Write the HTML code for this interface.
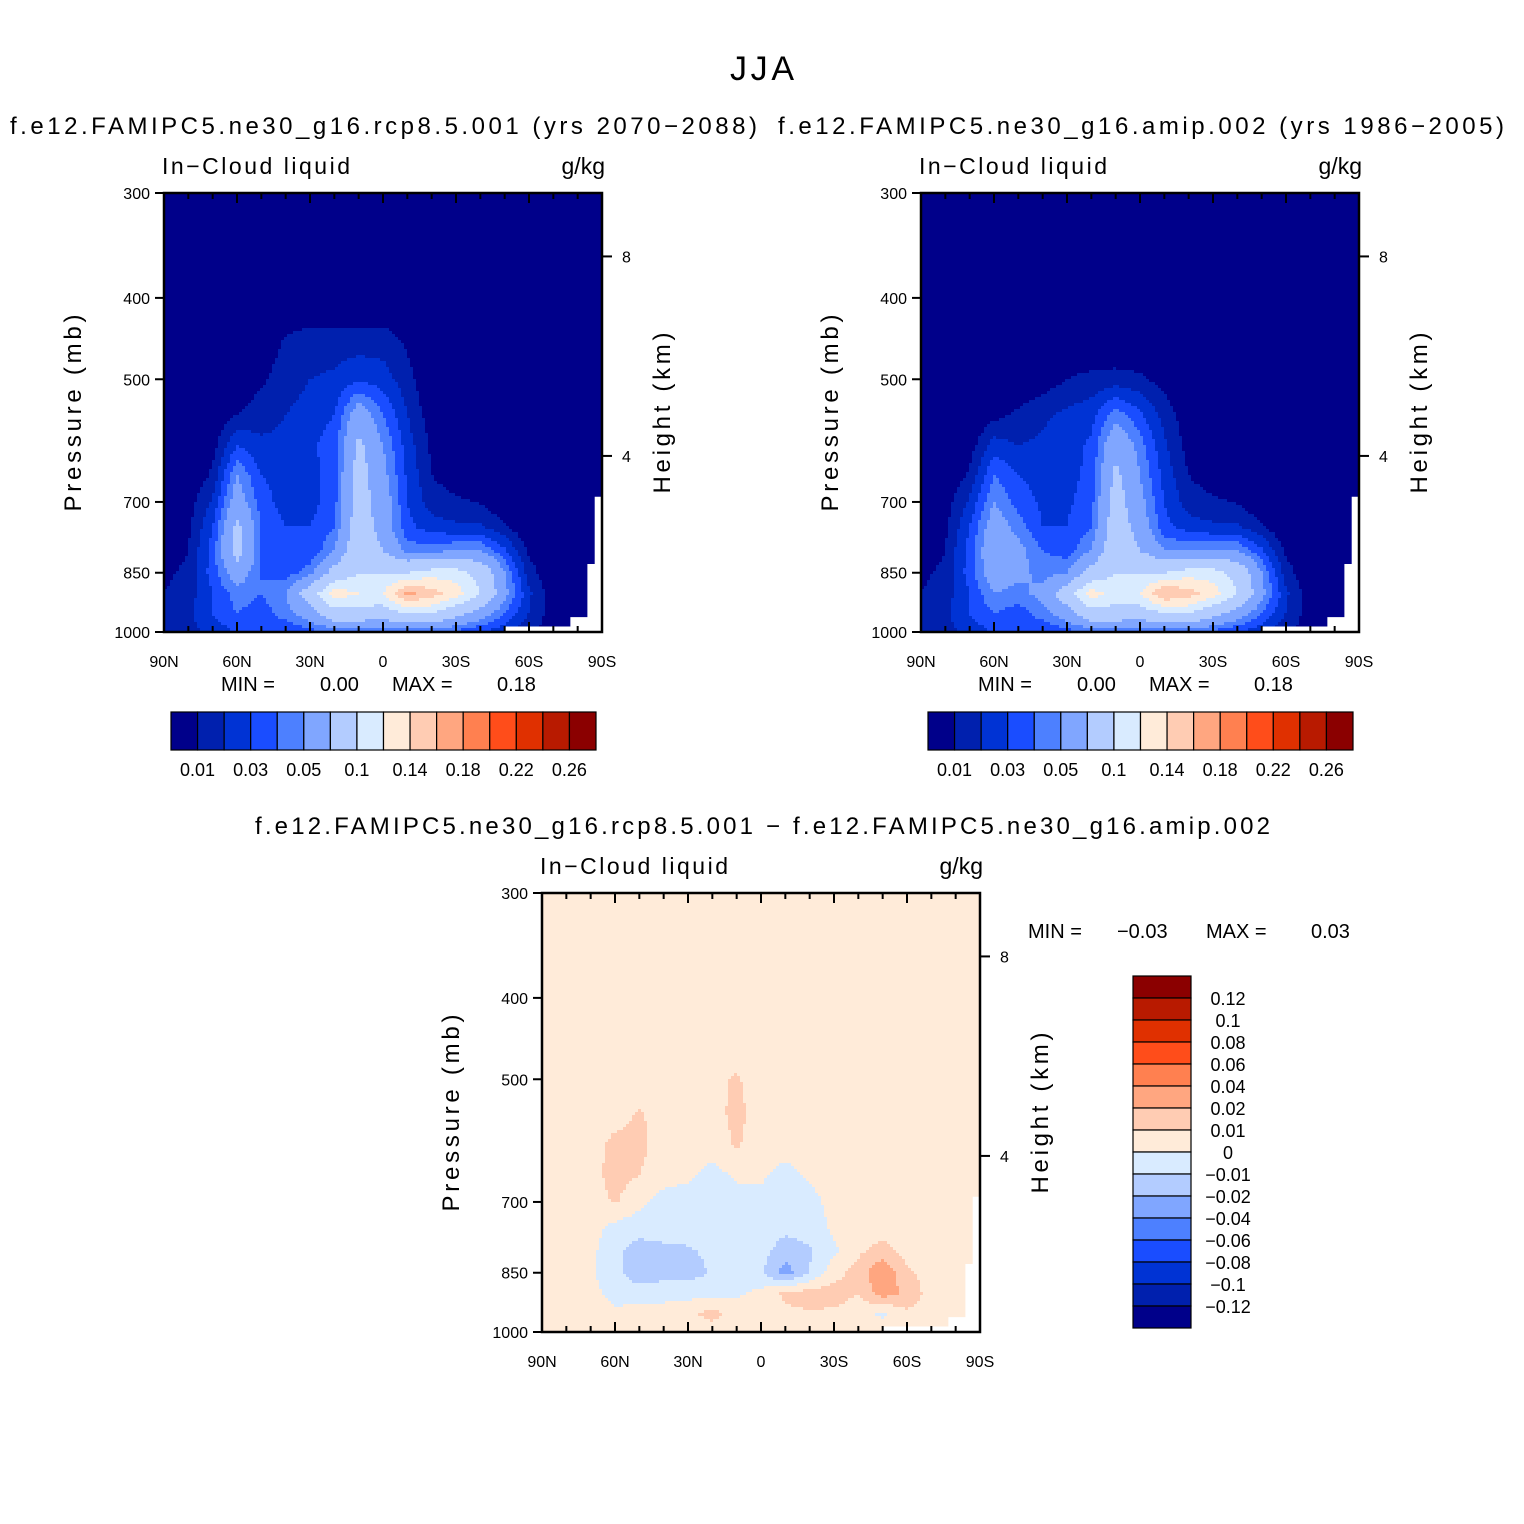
<!DOCTYPE html>
<html><head><meta charset="utf-8">
<style>
html,body{margin:0;padding:0;background:#fff;}
svg{display:block;font-family:"Liberation Sans",sans-serif;}
</style></head>
<body>
<svg id="fig" width="1524" height="1524" viewBox="0 0 1524 1524">
<text x="762" y="80" font-size="34" text-anchor="middle" textLength="64">JJA</text>
<text x="10" y="134" font-size="24" textLength="747">f.e12.FAMIPC5.ne30_g16.rcp8.5.001 (yrs 2070−2088)</text>
<text x="778" y="134" font-size="24" textLength="726">f.e12.FAMIPC5.ne30_g16.amip.002 (yrs 1986−2005)</text>
<text x="255" y="834" font-size="24" textLength="1015">f.e12.FAMIPC5.ne30_g16.rcp8.5.001 − f.e12.FAMIPC5.ne30_g16.amip.002</text>
<g id="plots"></g>
</svg>
<script>
const latLabels=["90N","60N","30N","0","30S","60S","90S"];
const presTicks=[300,400,500,700,850,1000];
const heightTicks=[8,4];
const heightTickPres=[357,617];
const presRows=[300,400,450,500,550,600,650,700,750,800,850,900,950,1000];
const absLevels=[0.01,0.02,0.03,0.04,0.05,0.07,0.1,0.12,0.14,0.16,0.18,0.2,0.22,0.24,0.26];
const absLabels=["0.01","0.03","0.05","0.1","0.14","0.18","0.22","0.26"];
const diffLevels=[-0.12,-0.1,-0.08,-0.06,-0.04,-0.02,-0.01,0,0.01,0.02,0.04,0.06,0.08,0.1,0.12];
const diffLabels=["0.12","0.1","0.08","0.06","0.04","0.02","0.01","0","−0.01","−0.02","−0.04","−0.06","−0.08","−0.1","−0.12"];
const colors=["#00008a","#0020ae","#0033d4","#1a4dff","#4d80ff","#80a6ff","#b3ccff","#d9ebff","#ffebd9","#ffccb3","#ffa680","#ff8050","#ff4d1a","#e03000","#b81a00","#8b0000"];
const field1=[
[0,0,0,0,0,0,0,0,0,0,0,0,0,0,0,0,0,0,0],
[0,0,0,0,0,0,0,0,0,0,0,0,0,0,0,0,0,0,0],
[0,0,0,0,0.004,0.011,0.015,0.015,0.015,0.015,0.008,0,0,0,0,0,0,0,0],
[0,0,0,0,0.008,0.015,0.02,0.022,0.028,0.025,0.014,0,0,0,0,0,0,0,0],
[0,0,0,0.01,0.016,0.02,0.024,0.03,0.06,0.04,0.02,0.004,0,0,0,0,0,0,0],
[0,0,0.006,0.03,0.022,0.022,0.028,0.035,0.075,0.05,0.025,0.008,0,0,0,0,0,0,0],
[0,0,0.012,0.05,0.03,0.025,0.026,0.035,0.08,0.055,0.028,0.01,0.004,0,0,0,0,0,0],
[0,0.005,0.022,0.06,0.035,0.025,0.026,0.036,0.08,0.06,0.03,0.015,0.012,0.009,0,0,0,0,0],
[0.003,0.008,0.03,0.075,0.04,0.03,0.03,0.04,0.085,0.06,0.033,0.025,0.022,0.022,0.012,0,0,0,0],
[0.005,0.01,0.035,0.08,0.04,0.032,0.032,0.05,0.09,0.07,0.045,0.045,0.05,0.05,0.032,0.008,0,0,0],
[0.008,0.012,0.035,0.06,0.04,0.035,0.045,0.08,0.1,0.1,0.1,0.11,0.11,0.09,0.05,0.015,0,0,0],
[0.01,0.015,0.03,0.045,0.04,0.05,0.085,0.13,0.12,0.12,0.165,0.15,0.13,0.1,0.055,0.022,0.004,0,0],
[0.012,0.018,0.03,0.04,0.035,0.045,0.06,0.09,0.09,0.085,0.1,0.1,0.08,0.06,0.04,0.02,0.004,0,0],
[0.01,0.015,0.025,0.03,0.03,0.032,0.035,0.04,0.04,0.04,0.04,0.04,0.035,0.03,0.022,0.012,0.004,0,0]];
const field2=[
[0,0,0,0,0,0,0,0,0,0,0,0,0,0,0,0,0,0,0],
[0,0,0,0,0,0,0,0,0,0,0,0,0,0,0,0,0,0,0],
[0,0,0,0,0,0,0,0,0,0,0,0,0,0,0,0,0,0,0],
[0,0,0,0,0,0.004,0.01,0.013,0.014,0.012,0.006,0,0,0,0,0,0,0,0],
[0,0,0,0.006,0.012,0.018,0.022,0.026,0.045,0.032,0.016,0.003,0,0,0,0,0,0,0],
[0,0,0.005,0.025,0.02,0.022,0.026,0.032,0.065,0.045,0.022,0.006,0,0,0,0,0,0,0],
[0,0,0.012,0.04,0.03,0.025,0.026,0.033,0.075,0.05,0.026,0.01,0.004,0,0,0,0,0,0],
[0,0.005,0.022,0.05,0.036,0.028,0.028,0.036,0.08,0.055,0.03,0.015,0.012,0.009,0,0,0,0,0],
[0.003,0.008,0.03,0.06,0.045,0.03,0.03,0.04,0.085,0.06,0.033,0.025,0.022,0.022,0.012,0,0,0,0],
[0.005,0.01,0.035,0.065,0.055,0.04,0.035,0.05,0.09,0.07,0.05,0.05,0.05,0.05,0.032,0.008,0,0,0],
[0.008,0.012,0.035,0.06,0.055,0.045,0.05,0.08,0.1,0.1,0.1,0.11,0.11,0.09,0.05,0.015,0,0,0],
[0.01,0.015,0.03,0.05,0.045,0.055,0.085,0.13,0.11,0.12,0.16,0.15,0.13,0.1,0.055,0.022,0.004,0,0],
[0.012,0.018,0.03,0.04,0.035,0.045,0.06,0.09,0.09,0.085,0.1,0.1,0.08,0.06,0.04,0.02,0.004,0,0],
[0.01,0.015,0.025,0.03,0.03,0.032,0.035,0.04,0.04,0.04,0.04,0.04,0.035,0.03,0.022,0.012,0.004,0,0]];
const fieldDiff=[
[0.005,0.005,0.005,0.005,0.005,0.005,0.005,0.005,0.005,0.005,0.005,0.005,0.005,0.005,0.005,0.005,0.005,0.005,0.005],
[0.005,0.005,0.005,0.005,0.005,0.005,0.005,0.005,0.005,0.005,0.005,0.005,0.005,0.005,0.005,0.005,0.005,0.005,0.005],
[0.005,0.005,0.005,0.005,0.005,0.005,0.005,0.005,0.005,0.005,0.005,0.005,0.005,0.005,0.005,0.005,0.005,0.005,0.005],
[0.005,0.005,0.005,0.005,0.005,0.005,0.005,0.008,0.011,0.005,0.005,0.005,0.005,0.005,0.005,0.005,0.005,0.005,0.005],
[0.005,0.005,0.005,0.006,0.011,0.006,0.005,0.006,0.013,0.005,0.005,0.005,0.005,0.005,0.005,0.005,0.005,0.005,0.005],
[0.005,0.005,0.006,0.013,0.013,0.005,0.005,0.005,0.011,0.005,0.005,0.005,0.005,0.005,0.005,0.005,0.005,0.005,0.005],
[0.005,0.005,0.006,0.014,0.01,0.004,0.002,-0.004,0.002,0.002,-0.004,0.002,0.005,0.005,0.005,0.005,0.005,0.005,0.005],
[0.005,0.005,0.005,0.011,0.003,-0.004,-0.005,-0.006,-0.005,-0.004,-0.006,-0.004,0.004,0.005,0.005,0.005,0.005,0.005,0.005],
[0.005,0.005,0.004,-0.003,-0.006,-0.006,-0.006,-0.006,-0.005,-0.005,-0.007,-0.006,0.002,0.006,0.005,0.005,0.005,0.005,0.005],
[0.005,0.005,0.003,-0.008,-0.014,-0.012,-0.011,-0.008,-0.006,-0.006,-0.015,-0.011,-0.002,0.008,0.014,0.006,0.005,0.005,0.005],
[0.005,0.005,0.002,-0.008,-0.015,-0.013,-0.014,-0.009,-0.005,-0.008,-0.025,-0.01,0.006,0.014,0.03,0.012,0.005,0.005,0.005],
[0.005,0.005,0.004,-0.004,-0.006,-0.005,-0.004,-0.003,-0.002,0.003,0.012,0.015,0.015,0.01,0.025,0.018,0.005,0.005,0.005],
[0.005,0.005,0.005,0.002,0.005,0.006,0.008,0.013,0.006,0.005,0.008,0.009,0.008,0.004,-0.002,0.008,0.005,0.005,0.005],
[0.005,0.005,0.005,0.005,0.005,0.005,0.005,0.006,0.005,0.005,0.005,0.005,0.005,0.005,0.005,0.005,0.005,0.005,0.005]];

const NS="http://www.w3.org/2000/svg";
const root=document.getElementById('plots');
function mk(tag,attrs,parent){const e=document.createElementNS(NS,tag);for(const k in attrs)e.setAttribute(k,attrs[k]);(parent||root).appendChild(e);return e;}
const W=438,H=439;
function xScale(x0,lat){return x0+(lat+90)/180*W;}
function yScale(y0,p){return y0+(Math.log(p)-Math.log(300))/(Math.log(1000)-Math.log(300))*H;}
function levelIndex(v,levels){let k=0;while(k<levels.length&&v>=levels[k])k++;return k;}
function sample(field,lat,p){
  let fi=(lat+90)/10;fi=Math.max(0,Math.min(18,fi));
  const i0=Math.min(17,Math.floor(fi)),tx=fi-i0;
  const lp=Math.log(p);let j=0;
  while(j<presRows.length-2&&Math.log(presRows[j+1])<lp)j++;
  const ty=Math.max(0,Math.min(1,(lp-Math.log(presRows[j]))/(Math.log(presRows[j+1])-Math.log(presRows[j]))));
  const a=field[j][i0]*(1-tx)+field[j][i0+1]*tx;
  const b=field[j+1][i0]*(1-tx)+field[j+1][i0+1]*tx;
  return a*(1-ty)+b*ty;
}
function panel(x0,y0,field,levels,name){
  const g=mk('g',{});
  
  
  const cs=3;const paths=colors.map(()=> '');
  for(let py=0;py<H;py+=cs){
    const p=Math.exp(Math.log(300)+(py+cs/2)/H*(Math.log(1000)-Math.log(300)));
    for(let px=0;px<W;px+=cs){
      const lat=(px+cs/2)/W*180-90;
      const k=levelIndex(sample(field,lat,p),levels);
      paths[k]+='M'+(x0+px)+' '+(y0+py)+'h'+Math.min(cs,W-px)+'v'+Math.min(cs,H-py)+'h-'+Math.min(cs,W-px)+'z';
    }
  }
  paths.forEach((d,k)=>{if(!d)return;const e=mk('path',{d:d,fill:colors[k],'shape-rendering':'crispEdges'},g);
    
    });
  const wm=mk('path',{d:'M'+xScale(x0,50)+' '+(y0+H)+'V'+yScale(y0,985)+'H'+xScale(x0,77)+'V'+yScale(y0,960)+'H'+xScale(x0,84)+'V'+yScale(y0,830)+'H'+xScale(x0,87)+'V'+yScale(y0,690)+'H'+xScale(x0,90)+'V'+(y0+H)+'Z',fill:'#fff'},g);
  
  
  const fr=mk('rect',{x:x0,y:y0,width:W,height:H,fill:'none',stroke:'#000','stroke-width':2.5},g);
  
  
  for(let lat=-90;lat<=90;lat+=10){
    const x=xScale(x0,lat);const major=lat%30===0;const L=major?10:6;
    mk('line',{x1:x,x2:x,y1:y0+H,y2:y0+H-L,stroke:'#000','stroke-width':2},g);
    mk('line',{x1:x,x2:x,y1:y0,y2:y0+L,stroke:'#000','stroke-width':2},g);
  }
  latLabels.forEach((t,i)=>{const e=mk('text',{x:xScale(x0,-90+30*i),y:y0+H+35,'font-size':16,'text-anchor':'middle'},g);e.textContent=t;
    
    });
  presTicks.forEach(p=>{const y=yScale(y0,p);mk('line',{x1:x0,x2:x0-9,y1:y,y2:y,stroke:'#000','stroke-width':2},g);
    const e=mk('text',{x:x0-14,y:y+6,'font-size':16,'text-anchor':'end'},g);e.textContent=p;
    
    });
  heightTicks.forEach((h,i)=>{const y=yScale(y0,heightTickPres[i]);
    mk('line',{x1:x0+W,x2:x0+W+10,y1:y,y2:y,stroke:'#000','stroke-width':2},g);
    const e=mk('text',{x:x0+W+20,y:y+6,'font-size':16},g);e.textContent=h;
    
    });
  const t1=mk('text',{x:x0-2,y:y0-19,'font-size':23,textLength:188},g);t1.textContent='In−Cloud liquid';
  
  
  const t2=mk('text',{x:x0+W+3,y:y0-19,'font-size':23,'text-anchor':'end'},g);t2.textContent='g/kg';
  
  
  const yl=mk('text',{x:0,y:0,'font-size':24,'text-anchor':'middle',textLength:197,transform:'translate('+(x0-83)+','+(y0+220)+') rotate(-90)'},g);yl.textContent='Pressure (mb)';
  
  
  const yr=mk('text',{x:0,y:0,'font-size':24,'text-anchor':'middle',textLength:161,transform:'translate('+(x0+W+68)+','+(y0+220)+') rotate(-90)'},g);yr.textContent='Height (km)';
  
  
}
function hbar(x0,y0){
  const g=mk('g',{});
  
  
  const bw=425/16;
  colors.forEach((c,i)=>{const r=mk('rect',{x:x0+i*bw,y:y0,width:bw,height:38,fill:c,stroke:'#000','stroke-width':1.2},g);
    
    });
  absLabels.forEach((t,i)=>{const e=mk('text',{x:x0+(2*i+1)*bw,y:y0+64,'font-size':18,'text-anchor':'middle'},g);e.textContent=t;
    
    });
}
function minmax(xs,y,mn,mx){
  const parts=['MIN =',mn,'MAX =',mx];
  parts.forEach((t,i)=>{const e=mk('text',{x:xs[i],y:y,'font-size':20});e.textContent=t;
    
    });
}
panel(164,193,field1,absLevels,'panel-rcp85');
panel(921,193,field2,absLevels,'panel-amip');
panel(542,893,fieldDiff,diffLevels,'panel-difference');
hbar(171,712);hbar(928,712);
minmax([221,320,392,497],691,'0.00','0.18');
minmax([978,1077,1149,1254],691,'0.00','0.18');
minmax([1028,1117,1206,1311],938,'−0.03','0.03');
(function(){
  const g=mk('g',{});
  
  
  const bh=352/16;
  for(let i=0;i<16;i++){const r=mk('rect',{x:1133,y:976+i*bh,width:58,height:bh,fill:colors[15-i],stroke:'#000','stroke-width':1.2},g);
    
    }
  diffLabels.forEach((t,i)=>{const e=mk('text',{x:1228,y:976+(i+1)*bh+7,'font-size':18,'text-anchor':'middle'},g);e.textContent=t;
    
    });
})();
</script>
</body></html>
